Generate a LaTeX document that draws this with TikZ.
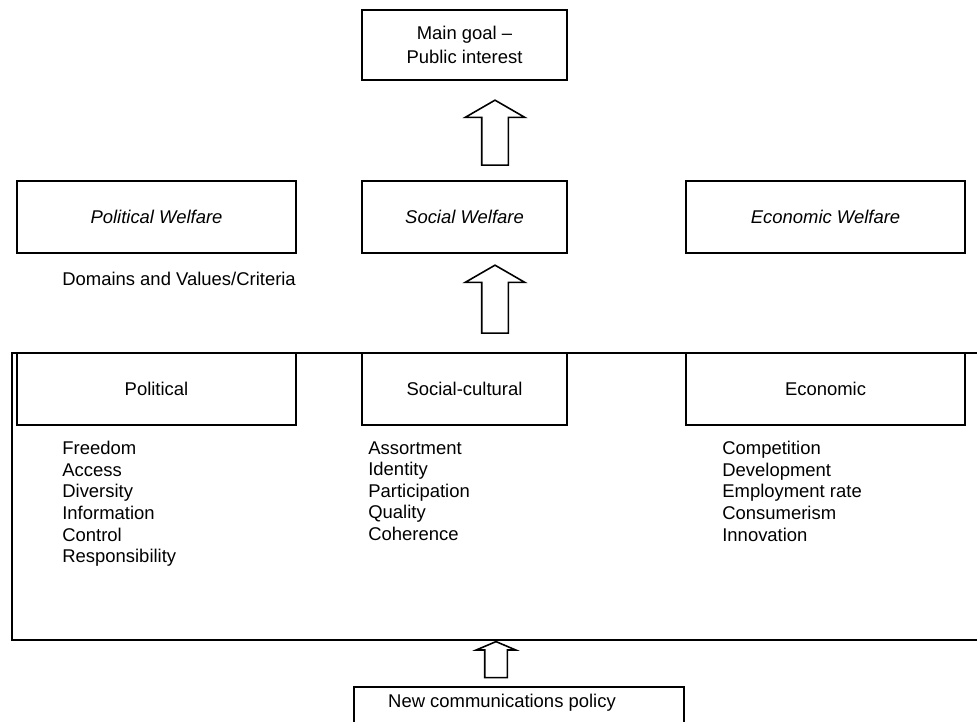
\documentclass[tikz,border=0pt]{standalone}
\usepackage{fontspec}
\setmainfont{Liberation Sans}
\usetikzlibrary{shapes.arrows, positioning}

\begin{document}
\begin{tikzpicture}[
    x=0.02cm, y=-0.02cm,
    box/.style={rectangle, draw, line width=0.9pt, minimum width=5.58cm, minimum height=1.44cm, align=center},
    smallbox/.style={box, minimum width=4.1cm},
    values/.style={anchor=north west, align=left, inner sep=0pt, font=\fontsize{10.5}{12.3}\selectfont},
    blockarrow/.style={single arrow, draw, line width=0.9pt, shape border rotate=90},
    every node/.append style={font=\fontsize{10.5}{13.5}\selectfont}
]
    \useasboundingbox (0,0) rectangle (977,722);

    % Goal
    \node[smallbox, minimum height=1.4cm] at (464.5,45) (goal) {Main goal --\\Public interest};

    % Welfare row
    \node[box] at (156.5,217) (polwel) {\itshape Political Welfare};
    \node[smallbox] at (464.5,217) (socwel) {\itshape Social Welfare};
    \node[box] at (825.5,217) (ecowel) {\itshape Economic Welfare};
    \node[anchor=west, inner sep=0pt] at (62,279) (domains) {Domains and Values/Criteria};

    % Block arrows
    \node[blockarrow, inner sep=0.25cm, minimum height=1.3cm, minimum width=1.16cm,
          single arrow head extend=0.33cm, single arrow tip angle=120] at (495,136.5) (up1) {};
    \node[blockarrow, inner sep=0.25cm, minimum height=1.36cm, minimum width=1.16cm,
          single arrow head extend=0.33cm, single arrow tip angle=120] at (495,303) (up2) {};
    \node[blockarrow, inner sep=0.21cm, minimum height=0.72cm, minimum width=0.76cm,
          single arrow head extend=0.17cm, single arrow tip angle=134] at (496,662) (up3) {};

    % Domains frame
    \draw[line width=0.9pt] (977,353) -- (12,353) -- (12,640) -- (977,640);
    \node[box] at (156.5,389) (pol) {Political};
    \node[smallbox] at (464.5,389) (soc) {Social-cultural};
    \node[box] at (825.5,389) (eco) {Economic};

    % Values
    \node[values] at (62,441) (polvals) {Freedom\\Access\\Diversity\\Information\\Control\\Responsibility};
    \node[values] at (368,441) (socvals) {Assortment\\Identity\\Participation\\Quality\\Coherence};
    \node[values] at (722,441) (ecovals) {Competition\\Development\\Employment rate\\Consumerism\\Innovation};

    % Policy
    \node[box, anchor=north west, minimum width=6.6cm, minimum height=1.6cm] at (353,686) (policy) {};
    \node[inner sep=0pt] at (502,703) (policytext) {New communications policy};
\end{tikzpicture}
\end{document}
